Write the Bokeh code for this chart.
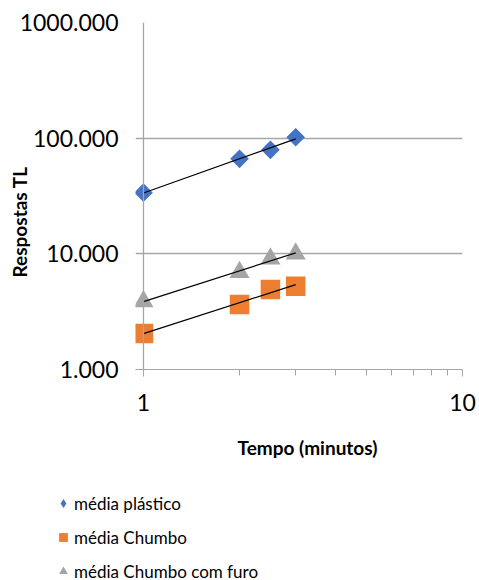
import numpy as np
from bokeh.plotting import figure
from bokeh.layouts import column
from bokeh.models import (Range1d, FixedTicker, NumeralTickFormatter, Span, Label,
                          Legend, LegendItem, Title)
from bokeh.embed import file_html
from bokeh.resources import INLINE

# Exposure time (minutes) and mean TL responses for each shielding
tempo = [1, 2, 2.5, 3]
media_plastico = [33.8, 66.3, 79.3, 101.9]
media_chumbo = [2.05, 3.65, 4.92, 5.25]
media_chumbo_furo = [3.87, 6.94, 9.06, 10.0]

series_names = ["média plástico", "média Chumbo", "média Chumbo com furo"]
series_colors = ["#4472C4", "#ED7D31", "#A5A5A5"]

x_ticks = [1, 10]
x_minor_ticks = [2, 3, 4, 5, 6, 7, 8, 9]
y_ticks = [1, 10, 100, 1000]

FONT = "Lato"
GRID = "#a6a6a6"
W = 479
H_PLOT = 425
H_LEGEND = 580 - H_PLOT

p = figure(width=W, height=H_PLOT, x_axis_type="log", y_axis_type="log",
           x_range=Range1d(0.944, 10), y_range=Range1d(1, 1000),
           output_backend="svg", toolbar_location=None,
           min_border_left=135, min_border_right=17,
           min_border_top=22, min_border_bottom=H_PLOT - 369)
p.frame_align = False
p.outline_line_color = None
p.background_fill_color = "white"
p.border_fill_color = "white"

# x axis: decades 1..10 with minor ticks
xa = p.xaxis[0]
xa.ticker = FixedTicker(ticks=x_ticks, minor_ticks=x_minor_ticks)
xa.formatter = NumeralTickFormatter(format="0")
xa.axis_line_color = GRID
xa.major_tick_line_color = GRID
xa.minor_tick_line_color = GRID
xa.major_tick_in = 0
xa.major_tick_out = 7
xa.minor_tick_in = 0
xa.minor_tick_out = 6
xa.major_label_standoff = 17
xa.major_label_text_font = FONT
xa.major_label_text_font_size = "23px"
xa.major_label_text_color = "black"

# y axis: only the labels, the value line is a span at x = 1
ya = p.yaxis[0]
ya.ticker = FixedTicker(ticks=y_ticks, minor_ticks=[])
ya.formatter = NumeralTickFormatter(format="0.000")
ya.axis_line_color = None
ya.major_tick_line_color = None
ya.minor_tick_line_color = None
ya.major_tick_in = 0
ya.major_tick_out = 0
ya.major_label_standoff = 17
ya.major_label_text_font = FONT
ya.major_label_text_font_size = "23px"
ya.major_label_text_color = "black"

p.xgrid.visible = False
p.ygrid.ticker = FixedTicker(ticks=y_ticks)
p.ygrid.grid_line_color = GRID
p.ygrid.grid_line_width = 1.3

p.add_layout(Span(location=1, dimension="height", line_color=GRID, line_width=1.3))

# y title, tucked next to the tick labels
p.add_layout(Title(text="Respostas TL", align="left", vertical_align="bottom",
                   offset=92, standoff=-28,
                   text_font=FONT, text_font_size="19px", text_font_style="bold",
                   text_color="black"), "left")

# data markers
p.scatter(tempo, media_plastico, marker="square", angle=np.pi / 4, size=13.2,
          fill_color=series_colors[0], line_color=None)
p.scatter(tempo, media_chumbo, marker="square", size=19.5,
          fill_color=series_colors[1], line_color=None)
p.scatter(tempo, media_chumbo_furo, marker="triangle", size=20,
          fill_color=series_colors[2], line_color=None)

# power-law trend lines (straight in log-log)
for ys in (media_plastico, media_chumbo_furo, media_chumbo):
    b, a = np.polyfit(np.log10(tempo), np.log10(ys), 1)
    xs = np.array([min(tempo), max(tempo)], dtype=float)
    p.line(xs, 10 ** (a + b * np.log10(xs)), line_color="black", line_width=1.2)

# lower strip: x title and legend
q = figure(width=W, height=H_LEGEND, x_range=Range1d(0, 1), y_range=Range1d(0, 1),
           x_axis_type=None, y_axis_type=None,
           output_backend="svg", toolbar_location=None,
           min_border=0, min_border_left=0, min_border_right=0,
           min_border_top=0, min_border_bottom=0)
q.frame_align = False
q.outline_line_color = None
q.xgrid.visible = False
q.ygrid.visible = False
q.background_fill_color = "white"
q.border_fill_color = "white"

q.add_layout(Label(x=307, y=H_LEGEND - 22, x_units="screen", y_units="screen",
                   text="Tempo (minutos)",
                   text_align="center", text_baseline="middle",
                   text_font=FONT, text_font_size="19px", text_font_style="bold",
                   text_color="black"))

# hidden copies of the series, used only to draw the legend keys
items = []
for name, mk, c, ys in zip(series_names, ["diamond", "square", "triangle"], series_colors,
                           (media_plastico, media_chumbo, media_chumbo_furo)):
    r = q.scatter(tempo, ys, marker=mk, fill_color=c, line_color=None)
    r.visible = False
    items.append(LegendItem(label=name, renderers=[r]))
legend = Legend(items=items, location=(52, -2), orientation="vertical",
                padding=0, margin=0, spacing=12,
                glyph_width=22, glyph_height=22, label_height=22,
                label_standoff=0,
                label_text_font=FONT, label_text_font_size="17px",
                label_text_color="black",
                border_line_color=None, background_fill_alpha=0)
q.add_layout(legend)

open("out.html", "w").write(file_html(column(p, q, spacing=0), INLINE))
